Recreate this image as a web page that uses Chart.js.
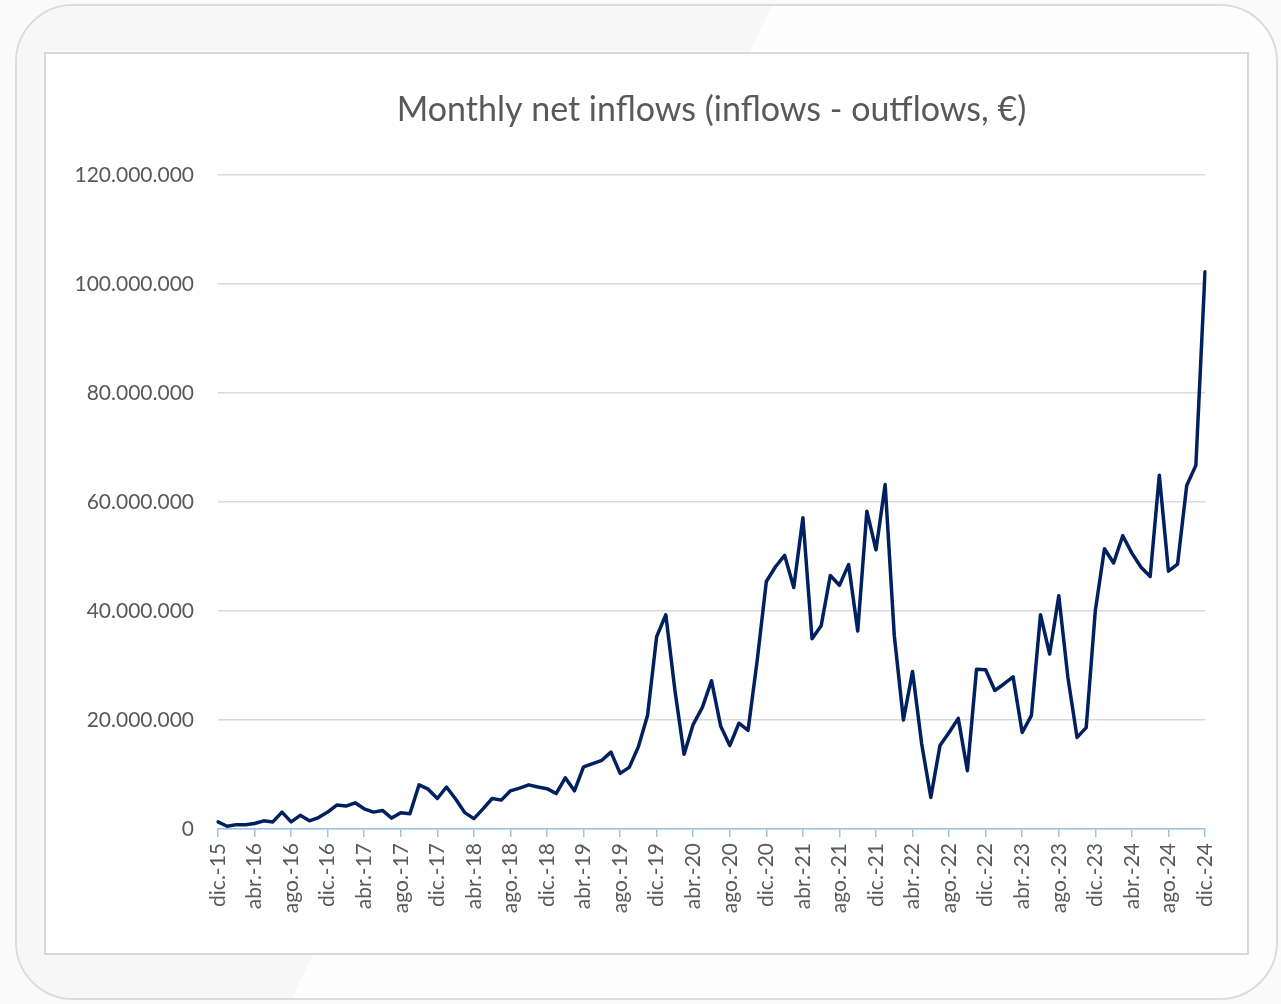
<!DOCTYPE html>
<html>
<head>
<meta charset="utf-8">
<title>Monthly net inflows</title>
<script src="https://cdn.jsdelivr.net/npm/chart.js@4.4.1/dist/chart.umd.min.js"></script>
<style>
  html, body { margin: 0; padding: 0; width: 1281px; height: 1004px; overflow: hidden; background: #fafafa; }
  .card { position: absolute; left: 15px; top: 4px; width: 1263px; height: 996px; box-sizing: border-box;
          border: 2px solid #dcdcdc; border-radius: 58px; background: #fdfdfd; overflow: hidden; }
  .shade { position: absolute; left: 0; top: 0; width: 100%; height: 100%; background: #f7f7f7;
           clip-path: polygon(0 0, 755px 0, 275px 100%, 0 100%); }
  .frame { position: absolute; left: 44px; top: 52px; width: 1205px; height: 903px; box-sizing: border-box;
           border: 2px solid #d9d9d9; background: #fff; }
  canvas { display: block; }
</style>
</head>
<body>
<div class="card"><div class="shade"></div></div>
<div class="frame">
  <canvas id="chart" width="1201" height="899"></canvas>
</div>
<script>
// month labels dic.-15 .. dic.-24
const monthNames = ['ene.', 'feb.', 'mar.', 'abr.', 'may.', 'jun.', 'jul.', 'ago.', 'sep.', 'oct.', 'nov.', 'dic.']
const months = []
for (let k = 0; k < 109; k++) {
  const m = (11 + k) % 12
  const yr = 15 + Math.floor((11 + k) / 12)
  months.push(monthNames[m] + '-' + yr)
}

// net inflows, millions of euro
const netInflowsM = [
  1.3, 0.5, 0.8, 0.8, 1.0, 1.5, 1.3, 3.1, 1.3, 2.5, 1.5, 2.1,
  3.1, 4.4, 4.2, 4.8, 3.7, 3.1, 3.4, 2.0, 3.0, 2.8, 8.1, 7.3,
  5.6, 7.7, 5.5, 3.0, 1.9, 3.7, 5.6, 5.3, 7.0, 7.5, 8.1, 7.7,
  7.4, 6.5, 9.4, 7.0, 11.4, 12.0, 12.6, 14.1, 10.2, 11.3, 15.1, 20.8,
  35.3, 39.3, 25.4, 13.7, 19.2, 22.3, 27.2, 18.9, 15.3, 19.4, 18.1, 30.9,
  45.4, 48.1, 50.2, 44.3, 57.1, 34.9, 37.3, 46.5, 44.7, 48.5, 36.3, 58.3,
  51.2, 63.2, 35.5, 20.0, 28.9, 15.6, 5.8, 15.3, 17.7, 20.3, 10.7, 29.3,
  29.2, 25.4, 26.6, 27.9, 17.7, 20.8, 39.3, 32.1, 42.8, 27.8, 16.8, 18.6,
  40.1, 51.4, 48.8, 53.8, 50.6, 48.0, 46.3, 64.9, 47.3, 48.6, 63.0, 66.7,
  102.2
]

const yTicks = [0, 20000000, 40000000, 60000000, 80000000, 100000000, 120000000]

const textColor = '#595959'
const fontFamily = 'Lato, "Open Sans", sans-serif'

function fmtDots(v) {
  return String(v).replace(/\B(?=(\d{3})+(?!\d))/g, '.')
}

const ctx = document.getElementById('chart').getContext('2d')
new Chart(ctx, {
  type: 'line',
  data: {
    labels: months,
    datasets: [{
      label: 'Net inflows',
      data: netInflowsM.map(v => v * 1000000),
      borderColor: '#002060',
      borderWidth: 3.5,
      pointRadius: 0,
      tension: 0,
      fill: false,
      borderJoinStyle: 'round',
      borderCapStyle: 'round'
    }]
  },
  options: {
    responsive: false,
    animation: false,
    devicePixelRatio: 1,
    layout: { padding: { left: 20, right: 42, top: 0, bottom: 0 } },
    plugins: {
      legend: { display: false },
      tooltip: { enabled: false },
      title: {
        display: true,
        fullSize: false,
        text: 'Monthly net inflows (inflows - outflows, €)',
        color: textColor,
        font: { family: fontFamily, size: 34, weight: 'normal', lineHeight: 1.2 },
        padding: { top: 36, bottom: 44 }
      }
    },
    scales: {
      x: {
        grid: { drawOnChartArea: false, drawTicks: true, tickLength: 8, color: '#9dc3e6', lineWidth: 1.5 },
        border: { color: '#9dc3e6', width: 1.5 },
        ticks: {
          autoSkip: false,
          maxRotation: 90,
          minRotation: 90,
          padding: 6,
          color: textColor,
          font: { family: fontFamily, size: 21 },
          callback: function(value, index) {
            return index % 4 === 0 ? this.getLabelForValue(value) : null
          }
        },
        afterFit: function(scale) { scale.height = 124 }
      },
      y: {
        min: 0,
        max: 120000000,
        afterBuildTicks: function(scale) { scale.ticks = yTicks.map(v => ({ value: v })) },
        grid: { color: '#d9d9d9', lineWidth: 1.5, drawTicks: false },
        border: { display: false },
        ticks: {
          padding: 24,
          color: textColor,
          font: { family: fontFamily, size: 21 },
          callback: function(value) { return fmtDots(value) }
        },
        afterFit: function(scale) { scale.width = 152 }
      }
    }
  }
})
</script>
</body>
</html>
